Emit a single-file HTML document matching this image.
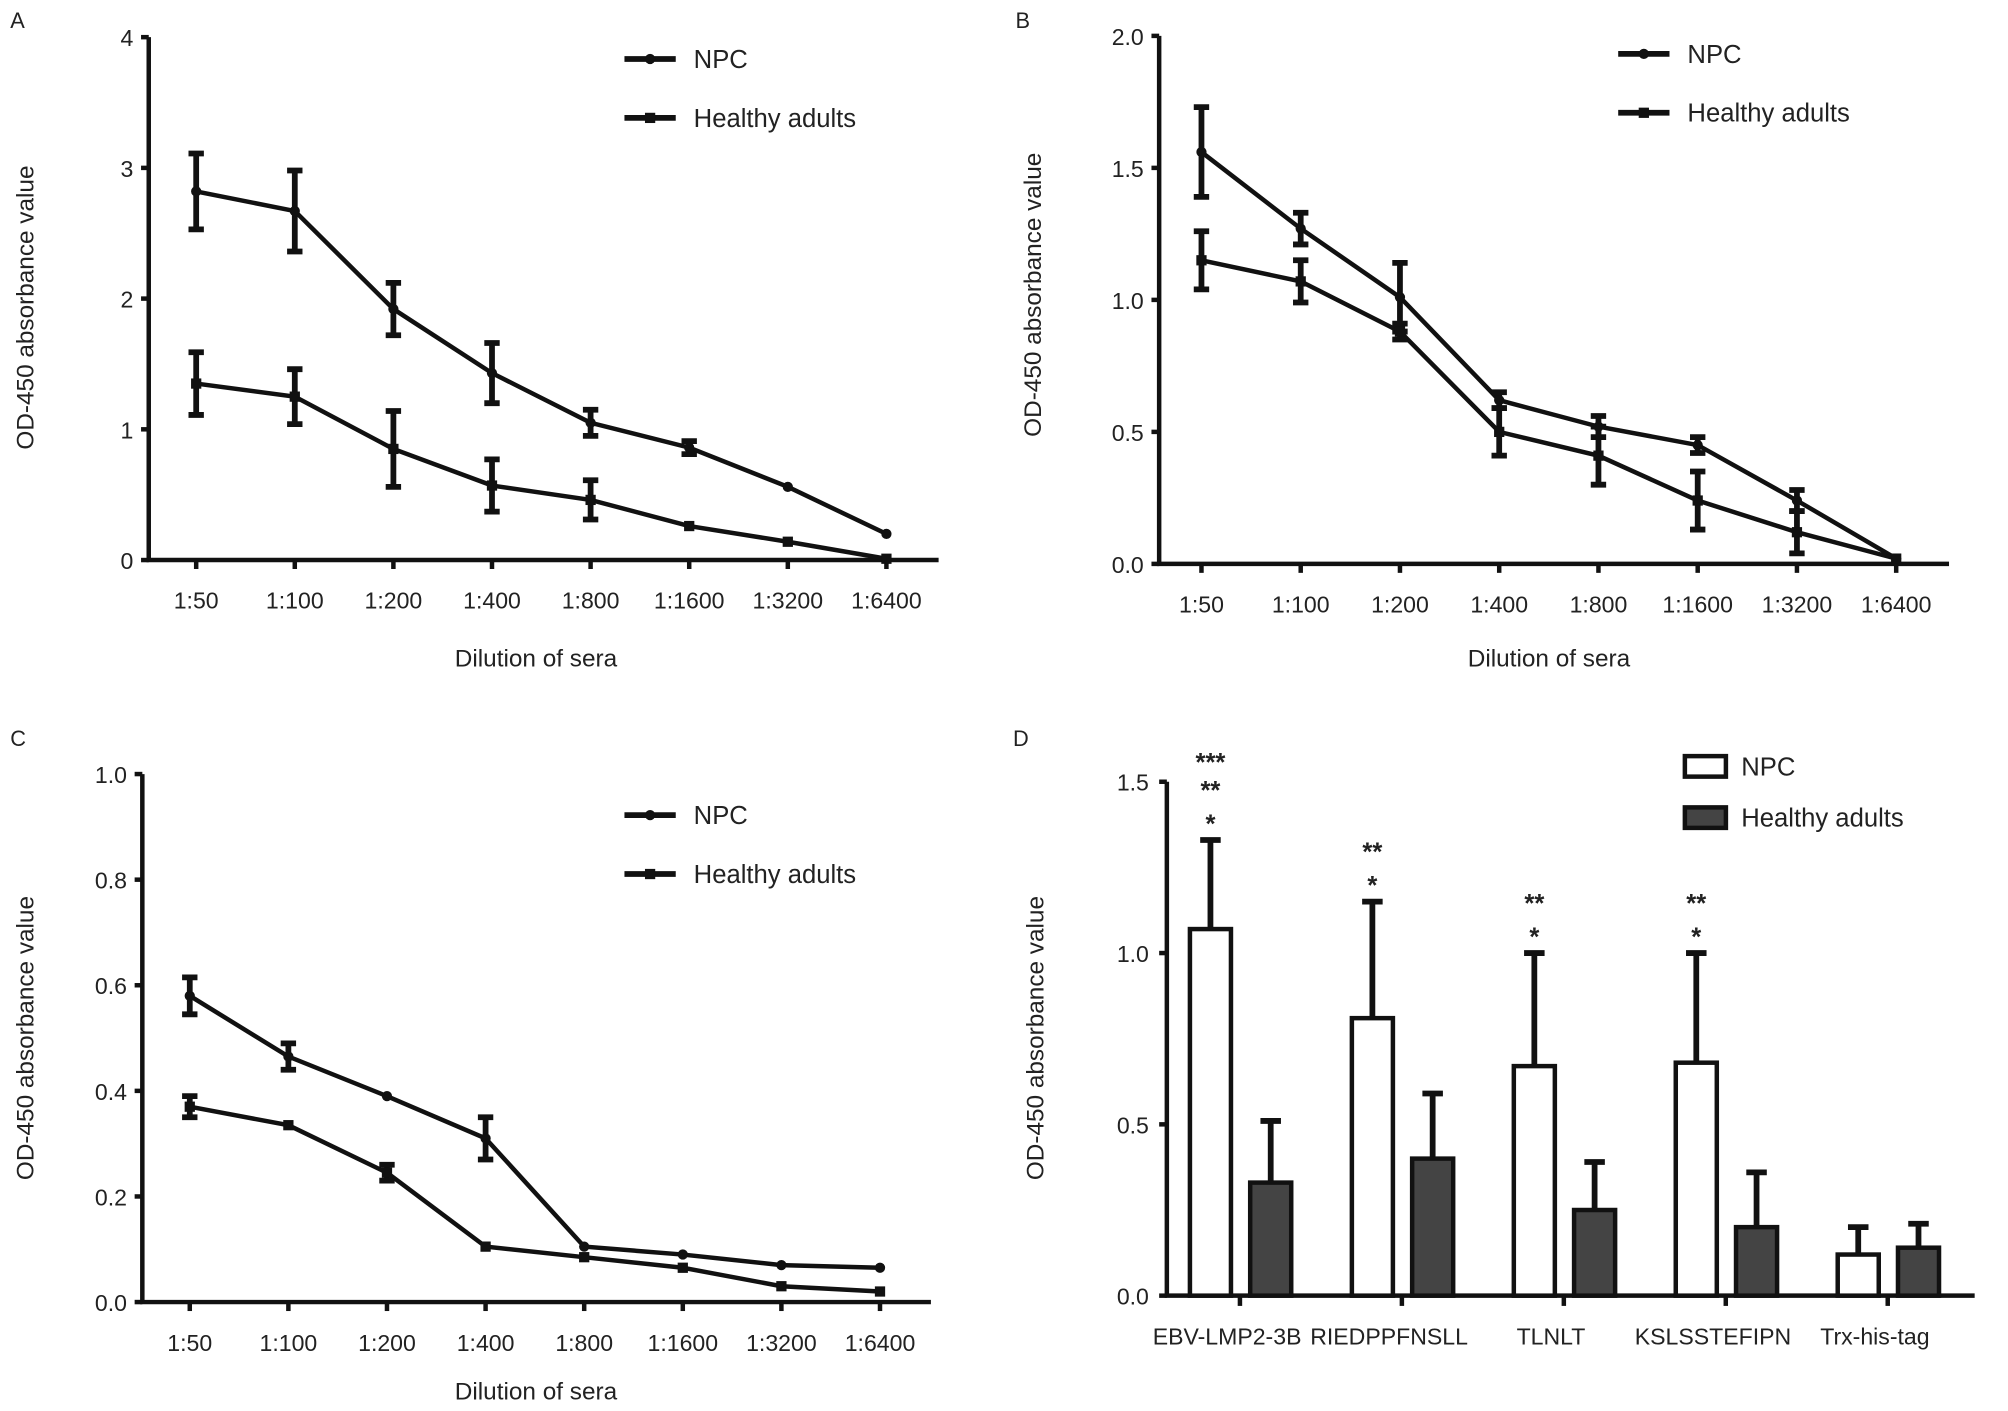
<!DOCTYPE html>
<html><head><meta charset="utf-8"><style>
html,body{margin:0;padding:0;background:#fff}
svg{display:block}
text{font-family:"Liberation Sans",Arial,sans-serif;fill:#222}
</style></head><body>
<svg id="fig" width="2008" height="1411" viewBox="0 0 1566 1101" preserveAspectRatio="none" xmlns="http://www.w3.org/2000/svg"></svg>
<script>
const dilutions=["1:50","1:100","1:200","1:400","1:800","1:1600","1:3200","1:6400"];
const aNPC=[2.82,2.67,1.92,1.43,1.05,0.86,0.56,0.2];
const aNPCErr=[0.29,0.31,0.2,0.23,0.1,0.05,0,0];
const aHealthy=[1.35,1.25,0.85,0.57,0.46,0.26,0.14,0.01];
const aHealthyErr=[0.24,0.21,0.29,0.2,0.15,0,0,0];
const aTicks=["0","1","2","3","4"];
const bNPC=[1.56,1.27,1.01,0.62,0.52,0.45,0.24,0.02];
const bNPCErr=[0.17,0.06,0.13,0.03,0.04,0.03,0.04,0];
const bHealthy=[1.15,1.07,0.88,0.50,0.41,0.24,0.12,0.02];
const bHealthyErr=[0.11,0.08,0.03,0.09,0.11,0.11,0.08,0];
const bTicks=["0.0","0.5","1.0","1.5","2.0"];
const cNPC=[0.58,0.465,0.39,0.31,0.105,0.09,0.07,0.065];
const cNPCErr=[0.035,0.025,0,0.04,0,0,0,0];
const cHealthy=[0.37,0.335,0.245,0.105,0.085,0.065,0.03,0.02];
const cHealthyErr=[0.02,0,0.015,0,0,0,0,0];
const cTicks=["0.0","0.2","0.4","0.6","0.8","1.0"];
const peptides=["EBV-LMP2-3B","RIEDPPFNSLL","TLNLT","KSLSSTEFIPN","Trx-his-tag"];
const dNPC=[1.07,0.81,0.67,0.68,0.12];
const dNPCErr=[0.26,0.34,0.33,0.32,0.08];
const dHealthy=[0.33,0.40,0.25,0.20,0.14];
const dHealthyErr=[0.18,0.19,0.14,0.16,0.07];
const dStars=[["***","**","*"],["**","*"],["**","*"],["**","*"],[]];
const dTicks=["0.0","0.5","1.0","1.5"];

const svg=document.getElementById('fig');
const NS='http://www.w3.org/2000/svg';
function mk(tag,attrs,parent){const e=document.createElementNS(NS,tag);for(const k in attrs)e.setAttribute(k,attrs[k]);(parent||svg).appendChild(e);return e;}
function txt(x,y,s,size,anchor,parent,rot){const t=mk('text',{x:x,y:y,'font-size':size,'text-anchor':anchor||'middle'},parent);if(rot)t.setAttribute('transform','rotate(-90 '+x+' '+y+')');t.textContent=s;return t;}

function lineChart(o){
  const g=mk('g',{});
  
  
  const ymax=o.ymax;
  const Y=v=>o.y0-(v/ymax)*(o.y0-o.y1);
  const X=i=>o.x0+i*o.dx;
  txt(o.lx,o.ly,o.letter,17,'start',g);
  const ax=mk('path',{d:`M${o.ax} ${o.y1} V${o.y0} H${o.axEnd}`,stroke:'#111','stroke-width':3.5,fill:'none'},g);
  
  o.ticks.forEach((t,i)=>{const v=ymax*i/(o.ticks.length-1);const y=Y(v);
    mk('line',{x1:o.ax-6,x2:o.ax,y1:y,y2:y,stroke:'#111','stroke-width':3.5},g);
    const tl=txt(o.ax-12,y+7,t,18,'end',g);});
  dilutions.forEach((d,i)=>{const x=X(i);mk('line',{x1:x,x2:x,y1:o.y0,y2:o.y0+7,stroke:'#111','stroke-width':3.5},g);
    const tl=txt(x,o.y0+38,d,18,'middle',g);});
  const xt=txt(o.tx,o.ty,'Dilution of sera',19,'middle',g);
  const yt=txt(o.yx,o.yy,'OD-450 absorbance value',19,'middle',g,true);
  [[o.npc,o.npcErr,'npc'],[o.h,o.hErr,'healthy']].forEach(([vals,errs,nm])=>{
    const p=mk('polyline',{points:vals.map((v,i)=>X(i)+','+Y(v)).join(' '),fill:'none',stroke:'#111','stroke-width':3.5},g);
    
    vals.forEach((v,i)=>{const x=X(i);
      if(errs[i]>0){const a=Y(v+errs[i]),b=Y(v-errs[i]);
        const e=mk('path',{d:`M${x} ${a}V${b}M${x-6} ${a}H${x+6}M${x-6} ${b}H${x+6}`,stroke:'#111','stroke-width':4.5,fill:'none'},g);
        }
      const m=nm=='npc'?mk('circle',{cx:x,cy:Y(v),r:4,fill:'#111'},g):mk('rect',{x:x-4,y:Y(v)-4,width:8,height:8,fill:'#111'},g);
      });
  });
  [['NPC',o.legY1,'c'],['Healthy adults',o.legY2,'s']].forEach(([s,y,sh])=>{
    const lg=mk('g',{},g);
    mk('line',{x1:o.legX,x2:o.legX+40,y1:y,y2:y,stroke:'#111','stroke-width':4.5},lg);
    if(sh=='c')mk('circle',{cx:o.legX+20,cy:y,r:4,fill:'#111'},lg);else mk('rect',{x:o.legX+16,y:y-4,width:8,height:8,fill:'#111'},lg);
    txt(o.legX+54,y+7,s,20,'start',lg);});
}
lineChart({name:'panel-a-chart',letter:'A',lx:8,ly:22,ax:116,axEnd:732,y0:437,y1:29,ymax:4,x0:153,dx:76.9,ticks:aTicks,npc:aNPC,npcErr:aNPCErr,h:aHealthy,hErr:aHealthyErr,tx:418,ty:520,yx:26,yy:240,legX:487,legY1:46,legY2:92});
lineChart({name:'panel-b-chart',letter:'B',lx:792,ly:22,ax:904,axEnd:1520,y0:440,y1:28,ymax:2,x0:937,dx:77.4,ticks:bTicks,npc:bNPC,npcErr:bNPCErr,h:bHealthy,hErr:bHealthyErr,tx:1208,ty:520,yx:812,yy:230,legX:1262,legY1:42,legY2:88});
lineChart({name:'panel-c-chart',letter:'C',lx:8,ly:582,ax:111,axEnd:726,y0:1016,y1:604,ymax:1,x0:148,dx:76.9,ticks:cTicks,npc:cNPC,npcErr:cNPCErr,h:cHealthy,hErr:cHealthyErr,tx:418,ty:1092,yx:26,yy:810,legX:487,legY1:636,legY2:682});

(function(){
  const g=mk('g',{});
  
  
  const y0=1011,y1=610,ymax=1.5,ax=910;
  const Y=v=>y0-(v/ymax)*(y0-y1);
  const GX=i=>967+i*126.3;
  txt(790,582,'D',17,'start',g);
  mk('path',{d:`M${ax} ${y1} V${y0} H1540`,stroke:'#111','stroke-width':3.5,fill:'none'},g);
  dTicks.forEach((t,i)=>{const v=ymax*i/(dTicks.length-1);const y=Y(v);
    mk('line',{x1:ax-6,x2:ax,y1:y,y2:y,stroke:'#111','stroke-width':3.5},g);
    const tl=txt(ax-14,y+7,t,18,'end',g);});
  const yt=txt(814,810,'OD-450 absorbance value',19,'middle',g,true);
  peptides.forEach((p,i)=>{const gx=GX(i);
    mk('line',{x1:gx,x2:gx,y1:y0,y2:y0+8,stroke:'#111','stroke-width':3.5},g);
    const tl=txt(gx-10,y0+38,p,18,'middle',g);
    [[dNPC,dNPCErr,-23,'#fff','npc'],[dHealthy,dHealthyErr,24,'#444','healthy']].forEach(([vals,errs,off,fill,nm])=>{
      const cx=gx+off,v=vals[i],top=Y(v),et=Y(v+errs[i]);
      const e=mk('path',{d:`M${cx} ${top}V${et}M${cx-8} ${et}H${cx+8}`,stroke:'#111','stroke-width':4.5,fill:'none'},g);
      
      const b=mk('rect',{x:cx-16,y:top,width:32,height:y0-top,fill:fill,stroke:'#111','stroke-width':3.5},g);
      
      if(nm=='npc'){const st=dStars[i];st.forEach((s,k)=>{const sy=et-10-(st.length-1-k)*22;
        const t=txt(cx,sy+(k==st.length-1?4:0),s,20,'middle',g);t.setAttribute('font-weight','bold');});}
    });
  });
  [['NPC',598,'#fff'],['Healthy adults',638,'#444']].forEach(([s,y,f])=>{
    const lg=mk('g',{},g);
    mk('rect',{x:1314,y:y-8,width:32,height:16,fill:f,stroke:'#111','stroke-width':3.5},lg);
    txt(1358,y+7,s,20,'start',lg);});
})();
</script>
</body></html>
